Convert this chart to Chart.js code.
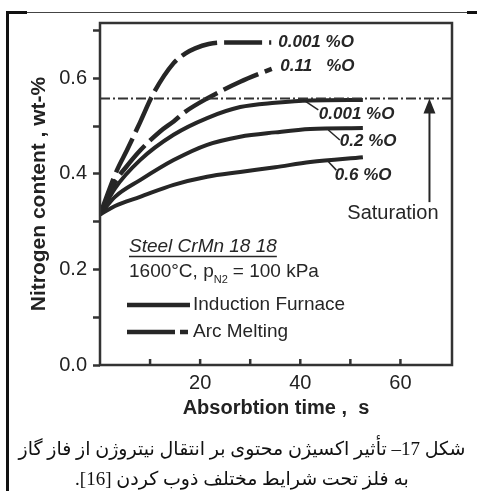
<!DOCTYPE html>
<html>
<head>
<meta charset="utf-8">
<script src="https://cdn.jsdelivr.net/npm/chart.js@4"></script>
<style>
html,body{margin:0;padding:0;background:#fff;}
#wrap{position:relative;width:477px;height:491px;overflow:hidden;background:#fff;}
canvas{position:absolute;left:0;top:0;}
.fl{position:absolute;background:#111;}
.cap{position:absolute;left:7px;width:470px;text-align:center;font-family:"Liberation Serif","DejaVu Sans",serif;font-size:19px;color:#111;white-space:nowrap;}
</style>
</head>
<body>
<div id="wrap">
<canvas id="c" width="477" height="491"></canvas>
<div class="fl" style="left:6px;top:11px;width:2.5px;height:480px;"></div>
<div class="fl" style="left:7px;top:11px;width:20px;height:2.5px;"></div>
<div class="fl" style="left:27px;top:11.5px;width:440px;height:1px;background:#444;"></div>
<div class="fl" style="left:467px;top:11px;width:10px;height:2.5px;"></div>
<div class="cap" id="cap1" dir="rtl" style="top:437px;"></div>
<div class="cap" id="cap2" dir="rtl" style="top:467px;"></div>
</div>
<script>
// ---- data ----
const solidT      = [0, 3, 8, 14.7, 21.4, 28, 35, 42, 52.5];
const solid001V   = [0.315, 0.37, 0.429, 0.482, 0.517, 0.540, 0.549, 0.554, 0.555];
const solid02V    = [0.315, 0.352, 0.387, 0.429, 0.461, 0.478, 0.487, 0.494, 0.496];
const solid06V    = [0.315, 0.333, 0.352, 0.377, 0.394, 0.404, 0.414, 0.425, 0.435];
const dash011T    = [0, 3.1, 5.1, 8.1, 12, 14.7, 17, 21.4, 28, 34.3];
const dash011V    = [0.315, 0.385, 0.413, 0.45, 0.489, 0.51, 0.53, 0.558, 0.593, 0.62];
const dash001T    = [0, 3.4, 5.4, 8, 10.7, 14.7, 17, 19, 21.7, 25, 34.2];
const dash001V    = [0.315, 0.408, 0.45, 0.508, 0.569, 0.632, 0.652, 0.663, 0.672, 0.675, 0.675];
const saturationT = [0, 70.3];
const saturationV = [0.558, 0.558];
const curveLabels = ['0.001 %O', '0.11   %O', '0.001 %O', '0.2 %O', '0.6 %O'];
const xTickValues = [10, 20, 30, 40, 50, 60];
const xTickLabels = [20, 40, 60];
const yTickLabels = ['0.0', '0.2', '0.4', '0.6'];
const caption1 = 'شکل 17– تأثیر اکسیژن محتوی بر انتقال نیتروژن از فاز گاز';
const caption2 = 'به فلز تحت شرایط مختلف ذوب کردن [16].';

function pts(t, v){ return t.map((x,i)=>({x:x, y:v[i]})); }

document.getElementById('cap1').textContent = caption1;
document.getElementById('cap2').textContent = caption2;

const INK = '#262626';
const FONT = '"Liberation Sans", Arial, sans-serif';

const annot = {
  id:'annot',
  afterDraw(chart){
    const {ctx, chartArea:a, scales:{x, y}} = chart;
    const X = v=>x.getPixelForValue(v), Y = v=>y.getPixelForValue(v);
    ctx.save();
    // plot frame
    ctx.strokeStyle = '#333'; ctx.lineWidth = 2.5;
    ctx.strokeRect(a.left, a.top, a.right-a.left, a.bottom-a.top);
    // inward x ticks
    ctx.lineWidth = 2.5;
    xTickValues.forEach(t=>{ ctx.beginPath(); ctx.moveTo(X(t), a.bottom); ctx.lineTo(X(t), a.bottom-6); ctx.stroke(); });
    // curve labels
    ctx.fillStyle = INK; ctx.textBaseline = 'middle'; ctx.textAlign = 'left';
    ctx.font = 'italic bold 17px ' + FONT;
    const la = [[35.6,0.675],[36.0,0.625],[43.7,0.524],[47.9,0.468],[46.9,0.398]];
    curveLabels.forEach((s,i)=>ctx.fillText(s, X(la[i][0]), Y(la[i][1])));
    // leader lines
    ctx.strokeStyle = INK; ctx.lineWidth = 1.5;
    [[40.6,0.555,43.6,0.534],[45.6,0.492,47.9,0.471],[45.3,0.429,47.2,0.408]].forEach(l=>{
      ctx.beginPath(); ctx.moveTo(X(l[0]),Y(l[1])); ctx.lineTo(X(l[2]),Y(l[3])); ctx.stroke();
    });
    // saturation arrow
    const ax = X(65.8), tip = Y(saturationV[0]);
    ctx.lineWidth = 2;
    ctx.beginPath(); ctx.moveTo(ax, Y(0.341)); ctx.lineTo(ax, tip+12); ctx.stroke();
    ctx.beginPath(); ctx.moveTo(ax, tip); ctx.lineTo(ax-6, tip+15); ctx.lineTo(ax+6, tip+15); ctx.closePath(); ctx.fill();
    ctx.font = '20px ' + FONT; ctx.textAlign = 'center';
    ctx.fillText('Saturation', X(58.5), Y(0.318));
    // legend block
    const L = a.left + 29;
    ctx.textAlign = 'left';
    ctx.font = 'italic 19px ' + FONT;
    ctx.fillText('Steel CrMn 18 18', L, 247);
    const w = ctx.measureText('Steel CrMn 18 18').width;
    ctx.lineWidth = 1.5; ctx.beginPath(); ctx.moveTo(L, 256.5); ctx.lineTo(L+w, 256.5); ctx.stroke();
    ctx.font = '19px ' + FONT;
    const s1 = '1600°C, p';
    ctx.fillText(s1, L, 272);
    let px = L + ctx.measureText(s1).width;
    ctx.font = '11px ' + FONT;
    ctx.fillText('N2', px, 280);
    px += ctx.measureText('N2').width + 5;
    ctx.font = '19px ' + FONT;
    ctx.fillText('= 100 kPa', px, 272);
    ctx.lineWidth = 4.5; ctx.strokeStyle = INK;
    ctx.beginPath(); ctx.moveTo(a.left+27, 305); ctx.lineTo(a.left+90, 305); ctx.stroke();
    ctx.fillText('Induction Furnace', a.left+93, 305);
    ctx.beginPath(); ctx.moveTo(a.left+27, 332); ctx.lineTo(a.left+75, 332); ctx.moveTo(a.left+80, 332); ctx.lineTo(a.left+88, 332); ctx.stroke();
    ctx.fillText('Arc Melting', a.left+93, 332);
    ctx.restore();
  }
};

const solidStyle = {borderColor:INK, borderWidth:4, pointRadius:0, fill:false, cubicInterpolationMode:'monotone', borderJoinStyle:'round'};
const dashStyle  = {borderColor:INK, borderWidth:4.5, pointRadius:0, fill:false, cubicInterpolationMode:'monotone', borderDash:[38,7]};

new Chart(document.getElementById('c'), {
  type:'line',
  data:{datasets:[
    Object.assign({label:'Saturation', data:pts(saturationT, saturationV), borderColor:'#333', borderWidth:2, pointRadius:0, borderDash:[10,3,2,3]}),
    Object.assign({label:'Induction 0.6 %O', data:pts(solidT, solid06V)}, solidStyle),
    Object.assign({label:'Induction 0.2 %O', data:pts(solidT, solid02V)}, solidStyle),
    Object.assign({label:'Induction 0.001 %O', data:pts(solidT, solid001V)}, solidStyle),
    Object.assign({label:'Arc 0.11 %O', data:pts(dash011T, dash011V)}, dashStyle),
    Object.assign({label:'Arc 0.001 %O', data:pts(dash001T, dash001V)}, dashStyle)
  ]},
  options:{
    responsive:false, animation:false, devicePixelRatio:1,
    layout:{padding:{left:0, right:25, top:23, bottom:71}},
    plugins:{legend:{display:false}, tooltip:{enabled:false}},
    scales:{
      x:{type:'linear', min:0, max:70.3,
        afterFit(s){ s.height = 55; },
        grid:{display:false, drawTicks:false}, border:{display:false},
        ticks:{stepSize:10, includeBounds:false, autoSkip:false, maxRotation:0, padding:6,
          color:'#222', font:{size:20, family:FONT},
          callback:v=> xTickLabels.includes(v) ? String(v) : ''},
        title:{display:true, text:'Absorbtion time ,  s', color:'#222', font:{size:20, weight:'bold', family:FONT}, padding:{top:0, bottom:0}}
      },
      y:{type:'linear', min:0, max:0.716,
        afterFit(s){ s.width = 100; },
        grid:{drawOnChartArea:false, drawTicks:true, tickLength:7, tickWidth:2.5, color:'#333'}, border:{display:false},
        ticks:{stepSize:0.1, includeBounds:false, padding:6, color:'#222', font:{size:20, family:FONT},
          callback:v=>{ const k = Math.round(v*10); return k%2===0 ? yTickLabels[k/2] : ''; }},
        title:{display:true, text:'Nitrogen content , wt-%', color:'#222', font:{size:21, weight:'bold', family:FONT}, padding:{top:27, bottom:0}}
      }
    }
  },
  plugins:[annot]
});
</script>
</body>
</html>
